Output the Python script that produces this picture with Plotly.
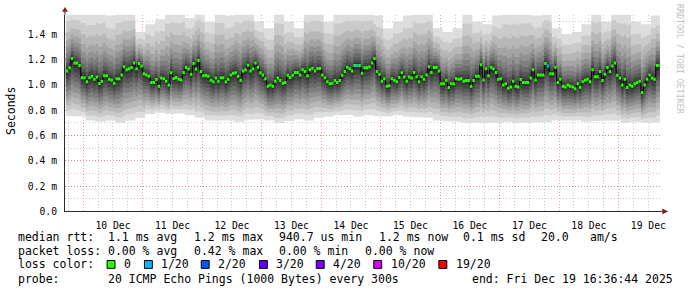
import numpy as np
import pandas as pd
import plotly.graph_objects as go

W, H = 697, 297

# ---------------- data ----------------
# hourly median RTT (ms), first slot starts 2025-12-09 17:00
median_ms = [
    1.11, 1.136, 1.21, 1.175, 1.175, 1.155, 1.058, 1.058, 1.025, 1.058, 1.07, 1.045, 1.063, 1.012, 1.03,
    1.074, 1.074, 1.045, 1.038, 1.014, 1.05, 1.05, 1.08, 1.144, 1.12, 1.128, 1.139, 1.175, 1.128, 1.17,
    1.15, 1.09, 1.08, 1.07, 1.02, 1.02, 1.043, 0.99, 1.055, 1.05, 1.03, 1.0, 1.097, 1.052, 1.06,
    1.045, 1.04, 1.10, 1.139, 1.126, 1.085, 1.17, 1.126, 1.193, 1.107, 1.074, 1.077, 1.07, 1.038, 1.025,
    1.055, 1.03, 1.058, 1.058, 1.025, 1.045, 1.08, 1.094, 1.097, 1.07, 1.038, 1.11, 1.12, 1.157, 1.11,
    1.128, 1.175, 1.14, 1.097, 1.08, 1.05, 0.99, 1.0, 0.99, 1.03, 1.055, 1.035, 1.014, 1.02, 1.077,
    1.06, 1.077, 1.10, 1.10, 1.08, 1.12, 1.107, 1.074, 1.12, 1.133, 1.11, 1.13, 1.13, 1.08, 1.058,
    1.025, 1.01, 1.014, 1.035, 1.02, 1.035, 1.077, 1.107, 1.14, 1.128, 1.11, 1.155, 1.155, 1.155, 1.094,
    1.136, 1.136, 1.144, 1.175, 1.21, 1.107, 1.085, 1.03, 1.05, 0.99, 0.995, 1.05, 1.038, 1.025, 1.06,
    1.097, 1.063, 1.03, 1.063, 1.055, 1.10, 1.065, 1.025, 1.065, 1.045, 1.08, 1.144, 1.10, 1.139, 1.139,
    1.11, 1.01, 1.01, 1.035, 0.98, 1.01, 1.01, 1.05, 1.045, 1.05, 1.03, 1.035, 1.035, 0.99, 1.035,
    1.07, 1.07, 1.16, 1.04, 1.128, 1.074, 1.14, 1.128, 1.10, 1.045, 1.05, 1.0, 1.01, 0.975, 0.985,
    1.03, 0.99, 0.985, 1.043, 1.02, 1.02, 1.02, 1.055, 1.12, 1.04, 1.08, 1.08, 1.08, 1.17, 1.15,
    1.09, 1.09, 1.14, 1.02, 1.045, 0.99, 0.985, 1.0, 0.99, 0.985, 0.97, 1.01, 0.983, 1.025, 1.038,
    1.045, 1.025, 1.12, 1.065, 1.065, 1.107, 1.035, 1.085, 1.139, 1.107, 1.15, 1.175, 1.077, 1.055, 1.0,
    1.045, 0.98, 1.0, 0.99, 1.01, 1.02, 1.03, 0.94, 1.0, 1.045, 1.08, 1.055, 1.045, 1.155, 1.155,
]
# hours (slot index) with packet loss, and lost pings out of 20
loss_slots = [117, 194]
loss_pings = [1, 1]

# smoke envelope per 4-hour block (ms): highest and lowest ping
smoke_top_ms = [
    1.60, 1.60, 1.58, 1.60, 1.55, 1.60, 1.60, 1.42, 1.48, 1.52,
    1.60, 1.60, 1.53, 1.60, 1.50, 1.60, 1.55, 1.60, 1.60, 1.50,
    1.45, 1.60, 1.50, 1.45, 1.60, 1.60, 1.50, 1.60, 1.60, 1.60,
    1.60, 1.55, 1.45, 1.50, 1.55, 1.60, 1.60, 1.45, 1.42, 1.45,
    1.60, 1.50, 1.48, 1.55, 1.60, 1.60, 1.60, 1.55, 1.60, 1.45,
    1.40, 1.42, 1.48, 1.60, 1.50, 1.60, 1.60, 1.50, 1.48, 1.55,
]
smoke_bottom_ms = [
    0.755, 0.75, 0.72, 0.71, 0.72, 0.70, 0.72, 0.74, 0.77, 0.78,
    0.77, 0.775, 0.76, 0.74, 0.72, 0.715, 0.72, 0.71, 0.725, 0.73,
    0.72, 0.70, 0.715, 0.73, 0.72, 0.74, 0.75, 0.76, 0.765, 0.75,
    0.76, 0.755, 0.75, 0.76, 0.75, 0.745, 0.74, 0.72, 0.715, 0.71,
    0.70, 0.70, 0.705, 0.70, 0.71, 0.70, 0.70, 0.705, 0.71, 0.72,
    0.715, 0.72, 0.71, 0.715, 0.72, 0.72, 0.70, 0.71, 0.70, 0.705,
]
# share of the distance median->envelope reached by each ping rank band (outer -> inner)
rank_frac_up = [1.0, 0.80, 0.63, 0.49, 0.38, 0.29, 0.21, 0.14, 0.085, 0.04]
rank_frac_down = [1.0, 0.88, 0.77, 0.66, 0.56, 0.46, 0.36, 0.27, 0.18, 0.09]
smoke_gray = [221, 202, 183, 164, 145, 126, 107, 88, 69, 50]

loss_labels = ["0", "1/20", "2/20", "3/20", "4/20", "10/20", "19/20"]
loss_thresholds = [0, 1, 2, 3, 4, 10, 19]
loss_colors = ["#26ff00", "#00b8ff", "#0059ff", "#5e00ff", "#7e00ff", "#dd00ff", "#ff0000"]

y_tick_values = [0.0, 0.2, 0.4, 0.6, 0.8, 1.0, 1.2, 1.4]
y_tick_labels = ["0.0", "0.2 m", "0.4 m", "0.6 m", "0.8 m", "1.0 m", "1.2 m", "1.4 m"]

first_slot = "2025-12-09 17:00:00"
end_time = "2025-12-19 16:36:44"
window_hours = 240

legend_rows = [
    [("median rtt:", 16), ("1.1 ms avg", 107), ("1.2 ms max", 194), ("940.7 us min", 279),
     ("1.2 ms now", 380), ("0.1 ms sd", 465), ("20.0", 544), ("am/s", 593)],
    [("packet loss:", 16), ("0.00 % avg", 107), ("0.42 % max", 194), ("0.00 % min", 279),
     ("0.00 % now", 366)],
    [("loss color:", 16)],
    [("probe:", 16), ("20 ICMP Echo Pings (1000 Bytes) every 300s", 107)],
]
end_label = "end: Fri Dec 19 16:36:44 2025"

# ---------------- geometry helpers (pixels -> paper) ----------------
def px(x):
    return x / W


def py(y):
    return 1 - y / H


PLOT_L, PLOT_R, PLOT_T, PLOT_B = 65.5, 665.5, 15, 215
Y_MAX = 1.556

med = np.array(median_ms)
n = len(med)
edges = pd.date_range(first_slot, periods=n + 1, freq="h")
top = np.array([smoke_top_ms[min(i // 4, len(smoke_top_ms) - 1)] for i in range(n)])
bot = np.array([smoke_bottom_ms[min(i // 4, len(smoke_bottom_ms) - 1)] for i in range(n)])

step_x = []
for i in range(n):
    step_x += [edges[i], edges[i + 1]]


def step_y(vals):
    out = []
    for v in vals:
        out += [v, v]
    return out


fig = go.Figure()

# smoke bands
for fu, fd, g in zip(rank_frac_up, rank_frac_down, smoke_gray):
    upper = med + fu * (top - med)
    lower = med - fd * (med - bot)
    xs = step_x + step_x[::-1]
    ys = step_y(upper) + step_y(lower)[::-1]
    fig.add_trace(go.Scatter(
        x=xs, y=ys, mode="lines", fill="toself",
        fillcolor=f"rgb({g},{g},{g})", line=dict(width=0, color=f"rgb({g},{g},{g})"),
        hoverinfo="skip", showlegend=False,
    ))

# median black step line
fig.add_trace(go.Scatter(x=step_x, y=step_y(med), mode="lines",
                         line=dict(color="#000000", width=1), hoverinfo="skip", showlegend=False))

# median coloured by loss
loss = np.zeros(n, dtype=int)
for s, c in zip(loss_slots, loss_pings):
    loss[s] = c


def loss_class(c):
    k = 0
    for j, th in enumerate(loss_thresholds):
        if c >= th:
            k = j
    return k


cls = np.array([loss_class(c) for c in loss])
for k, col in enumerate(loss_colors):
    xs, ys = [], []
    for i in range(n):
        if cls[i] == k:
            xs += [edges[i], edges[i + 1], None]
            ys += [med[i], med[i], None]
    if xs:
        fig.add_trace(go.Scatter(x=xs, y=ys, mode="lines", line=dict(color=col, width=3),
                                 hoverinfo="skip", showlegend=False))

end_ts = pd.Timestamp(end_time)
start_ts = end_ts - pd.Timedelta(hours=window_hours)

MONO = "DejaVu Sans Mono"
grid_gray = "rgba(143,143,143,0.45)"
grid_red = "rgba(228,93,93,0.6)"

fig.update_layout(
    width=W, height=H, margin=dict(l=0, r=0, t=0, b=0),
    paper_bgcolor="#ffffff", plot_bgcolor="#ffffff", showlegend=False,
    xaxis=dict(
        domain=[px(PLOT_L), px(PLOT_R)], type="date",
        range=[start_ts, end_ts], layer="above traces",
        tick0="2025-12-10", dtick=86400000, tickformat="%d %b", ticklabelmode="period",
        showgrid=True, gridcolor=grid_red, griddash="1px,2px", gridwidth=1,
        minor=dict(dtick=6 * 3600000, tick0="2025-12-10", showgrid=True, gridcolor=grid_gray,
                   griddash="1px,2px", gridwidth=1),
        ticks="", showline=True, linecolor="#2c2c2c", linewidth=1, zeroline=False,
        tickfont=dict(family=MONO, size=9.7, color="#000000"), ticklabelstandoff=5,
    ),
    yaxis=dict(
        domain=[py(PLOT_B), py(PLOT_T)], range=[0, Y_MAX], layer="above traces",
        tickmode="array", tickvals=y_tick_values, ticktext=y_tick_labels,
        showgrid=True, gridcolor=grid_red, griddash="1px,2px", gridwidth=1,
        minor=dict(dtick=0.1, tick0=0, showgrid=True, gridcolor=grid_gray, griddash="1px,2px",
                   gridwidth=1),
        ticks="", showline=True, linecolor="#2c2c2c", linewidth=1, zeroline=False,
        tickfont=dict(family=MONO, size=9.7, color="#000000"), ticklabelstandoff=5,
    ),
)

annotations = []
shapes = []

# axis arrows
ar = "#7f1f1f"
shapes.append(dict(type="line", xref="paper", yref="paper", x0=px(PLOT_L), x1=px(PLOT_L),
                   y0=py(PLOT_T), y1=py(10), line=dict(color="#2c2c2c", width=1)))
shapes.append(dict(type="line", xref="paper", yref="paper", x0=px(PLOT_R), x1=px(668),
                   y0=py(PLOT_B), y1=py(PLOT_B), line=dict(color="#2c2c2c", width=1)))
shapes.append(dict(type="path", xref="paper", yref="paper",
                   path=f"M {px(PLOT_L-3)},{py(12)} L {px(PLOT_L+3)},{py(12)} L {px(PLOT_L)},{py(7)} Z",
                   fillcolor=ar, line=dict(color=ar, width=0)))
shapes.append(dict(type="path", xref="paper", yref="paper",
                   path=f"M {px(668)},{py(PLOT_B-3)} L {px(668)},{py(PLOT_B+3)} L {px(674)},{py(PLOT_B)} Z",
                   fillcolor=ar, line=dict(color=ar, width=0)))

# axis title
annotations.append(dict(text="Seconds", xref="paper", yref="paper", x=px(11), y=py(113),
                        textangle=-90, showarrow=False, xanchor="center", yanchor="middle",
                        font=dict(family=MONO, size=11.5, color="#000000")))
# watermark
annotations.append(dict(text="RRDTOOL / TOBI OETIKER", xref="paper", yref="paper", x=px(686), y=py(60),
                        textangle=90, showarrow=False, xanchor="center", yanchor="middle",
                        font=dict(family=MONO, size=8.3, color="#c0c0c0")))

row_y = [241.5, 255.3, 269.0, 283.3]
for row, yy in zip(legend_rows, row_y):
    for text, xx in row:
        annotations.append(dict(text=text.replace(" ", "&nbsp;"), xref="paper", yref="paper",
                                x=px(xx), y=py(yy), showarrow=False, xanchor="left", yanchor="middle",
                                font=dict(family=MONO, size=11.5, color="#000000")))
annotations.append(dict(text=end_label.replace(" ", "&nbsp;"), xref="paper", yref="paper",
                        x=px(681), y=py(row_y[3]), showarrow=False, xanchor="right", yanchor="middle",
                        font=dict(family=MONO, size=11.5, color="#000000")))

box_x = [108, 145.7, 203, 261.7, 319, 377, 442.7]
for bx, lab, col in zip(box_x, loss_labels, loss_colors):
    shapes.append(dict(type="rect", xref="paper", yref="paper", x0=px(bx), x1=px(bx + 8),
                       y0=py(273), y1=py(265), fillcolor=col, line=dict(color="#000000", width=1)))
    annotations.append(dict(text=lab, xref="paper", yref="paper", x=px(bx + 15), y=py(row_y[2]),
                            showarrow=False, xanchor="left", yanchor="middle",
                            font=dict(family=MONO, size=11.5, color="#000000")))

fig.update_layout(annotations=annotations, shapes=shapes)
fig.write_html("out.html")
